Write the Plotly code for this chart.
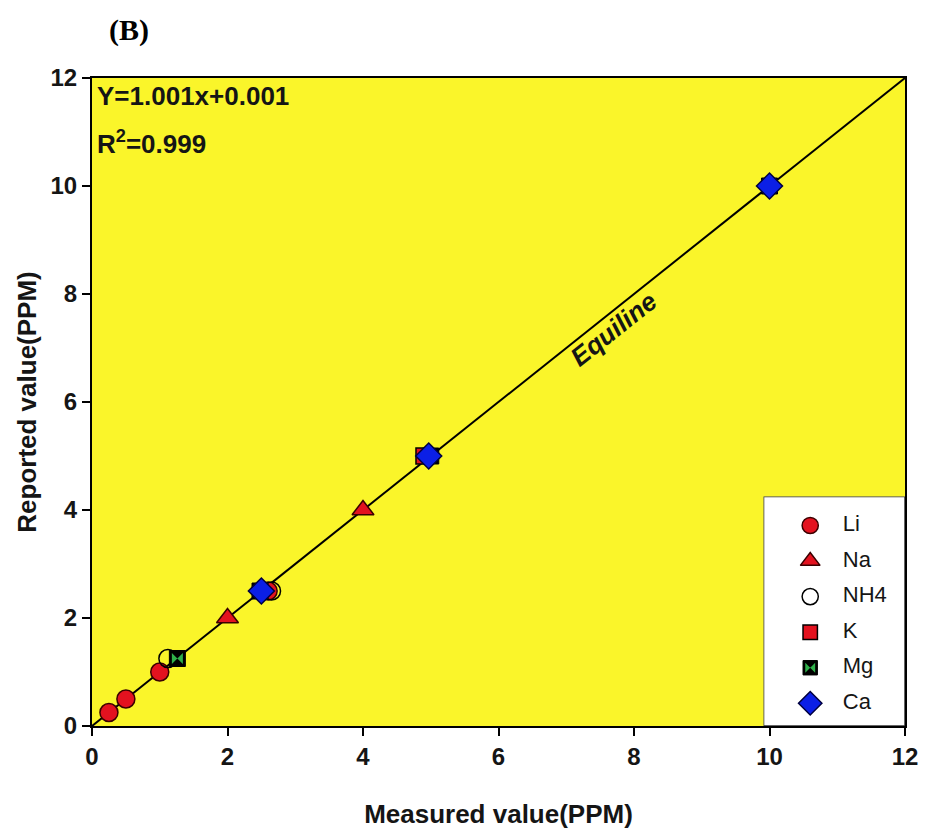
import plotly.graph_objects as go

# Measured vs reported concentrations (ppm) per ion
li_x = [0.25, 0.5, 1.0, 2.6]
li_y = [0.25, 0.5, 1.0, 2.5]
na_x = [2.0, 4.0]
na_y = [2.0, 4.0]
nh4_x = [1.12, 2.65]
nh4_y = [1.25, 2.5]
k_x = [4.9]
k_y = [5.0]
mg_x = [1.26, 2.48, 5.0, 10.0]
mg_y = [1.25, 2.5, 5.0, 10.0]
ca_x = [2.5, 4.97, 10.0]
ca_y = [2.5, 5.0, 10.0]

equiline = [0, 12]
ticks = [0, 2, 4, 6, 8, 10, 12]
legend_names = ["Li", "Na", "NH4", "K", "Mg", "Ca"]

RED = "#E3121F"
GREEN = "#2FB04A"
BLUE = "#0B1FE6"
YELLOW = "#FAF52A"
FONT = "Liberation Sans"
INK = "#151515"

fig = go.Figure()

fig.add_trace(go.Scatter(x=equiline, y=equiline, mode="lines",
                         line=dict(color="black", width=2), showlegend=False,
                         hoverinfo="skip"))

# marker styles shared by the data points and the legend key
styles = {
    "Li": [dict(symbol="circle", size=18, color=RED, line=dict(color="#3a0000", width=1.5))],
    "Na": [dict(symbol="triangle-up", size=19, color=RED, line=dict(color="#3a0000", width=1.5))],
    "NH4": [dict(symbol="circle-open", size=18, color="black", line=dict(color="black", width=1.5))],
    "K": [dict(symbol="square", size=16, color=RED, line=dict(color="black", width=1.5))],
    "Mg": [dict(symbol="square", size=16, color="black", line=dict(color="black", width=1)),
           dict(symbol="bowtie", size=11, color=GREEN, line=dict(color=GREEN, width=0))],
    "Ca": [dict(symbol="diamond", size=20, color=BLUE, line=dict(color="#000040", width=1.5))],
}
series = {"Li": (li_x, li_y), "Na": (na_x, na_y), "NH4": (nh4_x, nh4_y),
          "K": (k_x, k_y), "Mg": (mg_x, mg_y), "Ca": (ca_x, ca_y)}

for name in legend_names:
    xs, ys = series[name]
    for m in styles[name]:
        fig.add_trace(go.Scatter(x=xs, y=ys, mode="markers", marker=m,
                                 name=name, showlegend=False))

# legend key drawn in its own small hidden axis
for i, name in enumerate(legend_names):
    ly = 0.874 - 0.155 * i
    for m in styles[name]:
        mm = dict(m)
        mm["size"] = m["size"] * 0.9
        fig.add_trace(go.Scatter(x=[0.33], y=[ly], mode="markers", marker=mm,
                                 xaxis="x2", yaxis="y2", showlegend=False, hoverinfo="skip"))
    fig.add_trace(go.Scatter(x=[0.56], y=[ly], mode="text", text=[name],
                             textposition="middle right",
                             textfont=dict(family=FONT, size=22, color=INK),
                             xaxis="x2", yaxis="y2", showlegend=False, hoverinfo="skip"))

axis_common = dict(range=[0, 12], tickvals=ticks, ticks="outside", ticklen=8,
                   tickwidth=1.5, tickcolor="black", showline=True, linecolor="black",
                   linewidth=2, mirror=True, showgrid=False, zeroline=False,
                   tickfont=dict(family=FONT, size=24, color=INK, weight="bold"))

fig.update_layout(
    width=930, height=836,
    margin=dict(l=92, r=21, t=78, b=109),
    paper_bgcolor="white", plot_bgcolor=YELLOW,
    showlegend=False,
    xaxis=dict(**axis_common,
               title=dict(text="Measured value(PPM)", standoff=36,
                          font=dict(family=FONT, size=26, color=INK, weight="bold"))),
    yaxis=dict(**axis_common,
               title=dict(text="Reported value(PPM)", standoff=6,
                          font=dict(family=FONT, size=26, color=INK, weight="bold"))),
    xaxis2=dict(domain=[0.826, 1.0], range=[0, 1], visible=False, anchor="y2"),
    yaxis2=dict(domain=[0.0, 0.354], range=[0, 1], visible=False, anchor="x2"),
    shapes=[dict(type="rect", xref="x2", yref="y2", x0=0, x1=1, y0=0, y1=1,
                 fillcolor="white", line=dict(color="#333", width=1.5), layer="below")],
    annotations=[
        dict(text="(B)", xref="paper", yref="paper", x=0.018, y=1.074,
             xanchor="left", yanchor="middle", showarrow=False,
             font=dict(family="Liberation Serif", size=30, color="black", weight="bold")),
        dict(text="Y=1.001x+0.001", xref="paper", yref="paper", x=0.004, y=0.972,
             xanchor="left", yanchor="middle", showarrow=False,
             font=dict(family=FONT, size=26, color=INK, weight="bold")),
        dict(text="R<sup>2</sup>=0.999", xref="paper", yref="paper", x=0.004, y=0.9,
             xanchor="left", yanchor="middle", showarrow=False,
             font=dict(family=FONT, size=26, color=INK, weight="bold")),
        dict(text="<i>Equiline</i>", x=7.7, y=7.35, xref="x", yref="y",
             textangle=-38.5, showarrow=False,
             font=dict(family=FONT, size=26, color=INK, weight="bold")),
    ],
)

fig.write_html("out.html")
